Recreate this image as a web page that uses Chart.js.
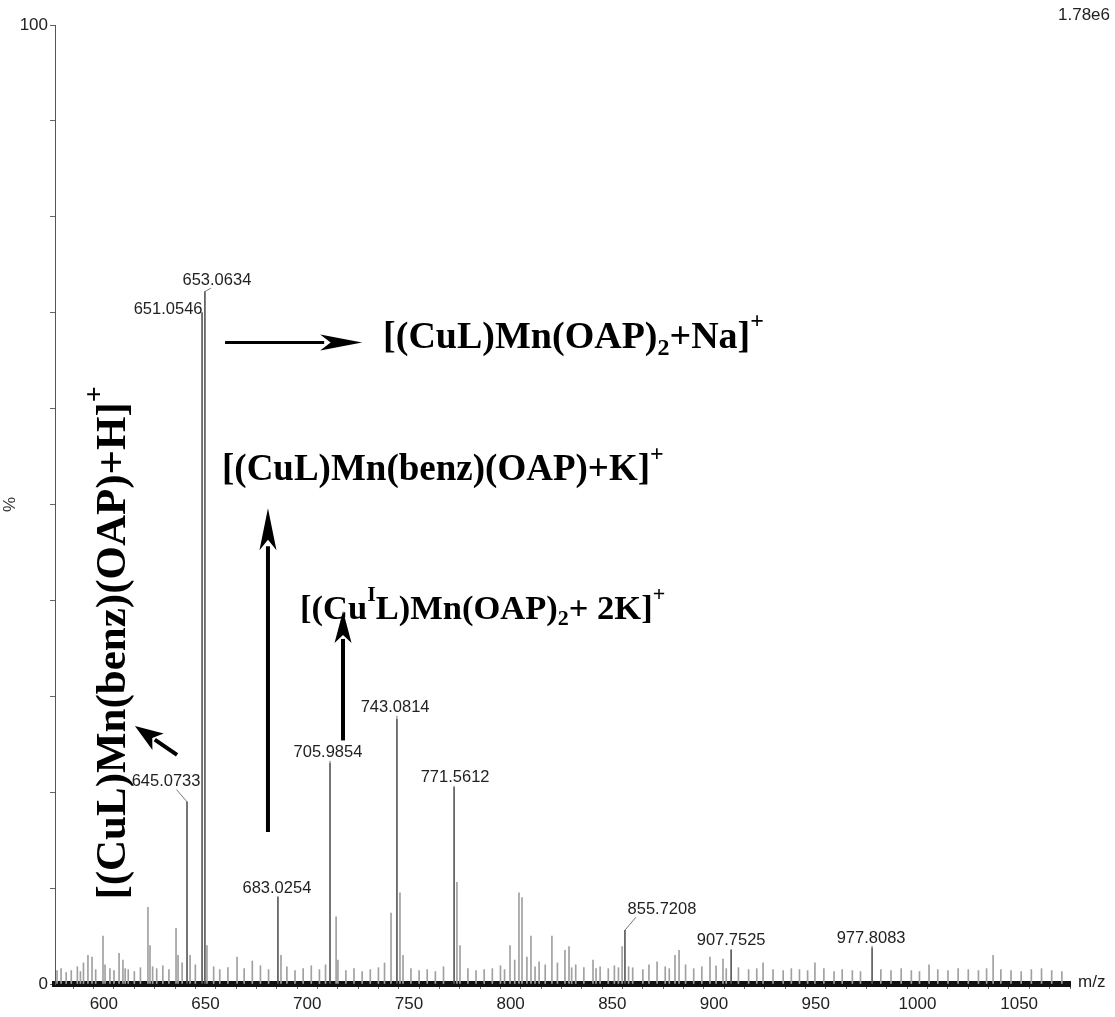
<!DOCTYPE html>
<html>
<head>
<meta charset="utf-8">
<script src="https://cdn.jsdelivr.net/npm/chart.js@4.4.0/dist/chart.umd.min.js"></script>
<style>
html, body { margin: 0; padding: 0; background: #fff; }
#wrap { width: 1115px; height: 1017px; }
</style>
</head>
<body>
<div id="wrap"><canvas id="grafica"></canvas></div>
<script>
// labelled peaks (m/z where the stick sits, relative intensity %)
var peakText = ["653.0634", "651.0546", "645.0733", "683.0254", "705.9854", "743.0814", "771.5612", "855.7208", "907.7525", "977.8083"];
var peakMz   = [649.7, 648.3, 640.9, 685.6, 711.2, 744.1, 772.2, 856.2, 908.4, 977.7];
var peakPct  = [72.2, 70.0, 19.0, 9.1, 23.0, 27.6, 20.5, 5.6, 3.5, 3.75];
// where the label text sits
var labelMz  = [655.6, 631.6, 630.6, 685.1, 710.2, 743.2, 772.7, 874.4, 908.4, 977.2];
var labelPct = [73.4, 70.3, 21.1, 10.0, 24.1, 28.8, 21.5, 7.8, 4.5, 4.8];

// unlabelled sticks
var minorMz  = [577, 579, 581.5, 584, 587, 588.5, 590, 592.2, 594.2, 596, 599.6, 600.6, 603, 605, 607.5, 609.4, 610.5, 612, 615, 618, 621.7, 622.7, 624, 626, 629, 632, 635.5, 636.5, 638.5, 642.4, 645, 650.7, 654, 657, 661, 665.5, 669, 673, 677, 681, 687.1, 690, 694, 698, 702, 706, 709, 714.2, 715.1, 719, 723, 727, 731, 735, 738, 741.2, 745.6, 747.1, 751, 755, 759, 763, 767, 773.6, 775.1, 779, 783, 787, 791, 795, 797, 799.7, 802, 804.1, 805.6, 808, 810, 812, 814, 817, 820.3, 823, 826.7, 828.7, 830, 832, 836, 840.5, 842, 844, 848, 851, 853, 854.8, 858, 860, 865, 868, 872, 876, 878, 880.8, 882.8, 886, 890, 894, 898, 901, 904.4, 906, 912, 917, 921, 924.1, 929, 934, 938, 942, 946, 949.6, 954, 959, 963, 968, 972, 982, 987, 992, 997, 1001, 1005.7, 1010, 1015, 1020, 1025, 1030, 1034, 1037.2, 1041, 1046, 1051, 1056, 1061, 1066, 1071];
var minorPct = [1.4, 1.6, 1.2, 1.4, 1.8, 1.3, 2.2, 3.0, 2.8, 1.5, 5.0, 2.0, 1.6, 1.4, 3.2, 2.5, 1.6, 1.5, 1.3, 1.7, 8.0, 4.0, 1.8, 1.6, 1.9, 1.5, 5.8, 3.0, 2.2, 3.0, 2.0, 4.0, 1.8, 1.5, 1.7, 2.8, 1.6, 2.4, 1.9, 1.5, 3.0, 1.8, 1.4, 1.6, 1.9, 1.5, 2.0, 7.0, 2.5, 1.4, 1.6, 1.3, 1.5, 1.7, 2.2, 7.4, 9.5, 3.0, 1.6, 1.4, 1.5, 1.3, 1.8, 10.6, 4.0, 1.6, 1.4, 1.5, 1.6, 1.9, 1.5, 4.0, 2.5, 9.5, 9.0, 2.8, 5.0, 1.8, 2.3, 2.0, 5.0, 2.2, 3.5, 3.9, 1.7, 2.0, 1.7, 2.5, 1.6, 1.8, 1.6, 1.9, 1.7, 3.9, 1.8, 1.7, 1.5, 2.0, 2.3, 1.8, 1.6, 3.0, 3.5, 2.0, 1.6, 1.8, 2.8, 1.9, 2.6, 1.6, 1.7, 1.5, 1.6, 2.2, 1.5, 1.4, 1.6, 1.5, 1.4, 2.2, 1.6, 1.3, 1.5, 1.4, 1.3, 1.5, 1.4, 1.6, 1.4, 1.3, 2.0, 1.5, 1.4, 1.6, 1.5, 1.4, 1.6, 3.0, 1.5, 1.4, 1.3, 1.5, 1.6, 1.4, 1.3];

var xTicks = [600, 650, 700, 750, 800, 850, 900, 950, 1000, 1050];

function punts(xs, ys) {
    var d = [];
    for (var i = 0; i < xs.length; i++) {
        d.push({ x: xs[i], y: ys[i] });
    }
    return d;
}

// annotation texts, pieces: n normal, sub, sup
var formulaNa = [["[(CuL)Mn(OAP)", "n"], ["2", "sub"], ["+Na]", "n"], ["+", "sup"]];
var formulaK = [["[(CuL)Mn(benz)(OAP)+K]", "n"], ["+", "sup"]];
var formula2K = [["[(Cu", "n"], ["I", "sup"], ["L)Mn(OAP)", "n"], ["2", "sub"], ["+ 2K]", "n"], ["+", "sup"]];
var formulaH = [["[(CuL)Mn(benz)(OAP)+H]", "n"], ["+", "sup"]];

var FONT = '"Liberation Serif", "Times New Roman", serif';

function escriuFormula(ctx, parts, x, y, mida) {
    var cx = x;
    for (var i = 0; i < parts.length; i++) {
        var t = parts[i][0], k = parts[i][1];
        var dy = 0;
        if (k == "n") {
            ctx.font = "bold " + mida + "px " + FONT;
        } else {
            ctx.font = "bold " + Math.round(mida * 0.64) + "px " + FONT;
            dy = (k == "sub") ? mida * 0.27 : -mida * 0.42;
        }
        ctx.fillText(t, cx, y + dy);
        cx += ctx.measureText(t).width;
    }
}

function fletxa(ctx, x1, y1, x2, y2, gruix, llarg, ample) {
    var ang = Math.atan2(y2 - y1, x2 - x1);
    var bx = x2 - Math.cos(ang) * llarg;
    var by = y2 - Math.sin(ang) * llarg;
    ctx.strokeStyle = "#000";
    ctx.fillStyle = "#000";
    ctx.lineWidth = gruix;
    ctx.beginPath();
    ctx.moveTo(x1, y1);
    ctx.lineTo(bx + Math.cos(ang) * 4, by + Math.sin(ang) * 4);
    ctx.stroke();
    var px = -Math.sin(ang), py = Math.cos(ang);
    ctx.beginPath();
    ctx.moveTo(x2, y2);
    ctx.lineTo(bx + px * ample / 2, by + py * ample / 2);
    ctx.lineTo(bx + Math.cos(ang) * llarg * 0.25, by + Math.sin(ang) * llarg * 0.25);
    ctx.lineTo(bx - px * ample / 2, by - py * ample / 2);
    ctx.closePath();
    ctx.fill();
}

var anotacions = {
    id: "anotacions",
    afterDraw: function (chart) {
        var ctx = chart.ctx;
        var xs = chart.scales.x, ys = chart.scales.y;
        var area = chart.chartArea;
        ctx.save();

        // peak labels with leaders
        ctx.font = '16.5px "Liberation Sans", Arial, sans-serif';
        ctx.textAlign = "center";
        ctx.textBaseline = "middle";
        for (var i = 0; i < peakText.length; i++) {
            var lx = xs.getPixelForValue(labelMz[i]);
            var ly = ys.getPixelForValue(labelPct[i]);
            var px = xs.getPixelForValue(peakMz[i]);
            var py = ys.getPixelForValue(peakPct[i]);
            ctx.fillStyle = "#222";
            ctx.fillText(peakText[i], lx, ly);
            var dif = lx - px;
            var sx = px;
            if (Math.abs(dif) > 4) {
                sx = px + Math.sign(dif) * Math.min(11, Math.abs(dif) / 2);
            }
            if (py > ly + 9) {
                ctx.strokeStyle = "#777";
                ctx.lineWidth = 1;
                ctx.beginPath();
                ctx.moveTo(sx, ly + 8);
                ctx.lineTo(px, py);
                ctx.stroke();
            }
        }

        // "m/z" and scale factor
        ctx.fillStyle = "#222";
        ctx.font = '17px "Liberation Sans", Arial, sans-serif';
        ctx.textAlign = "left";
        ctx.fillText("m/z", area.right + 8, area.bottom - 2);
        ctx.textAlign = "right";
        ctx.fillText("1.78e6", 1110, 15);

        // big formulas
        ctx.fillStyle = "#000";
        ctx.textAlign = "left";
        ctx.textBaseline = "middle";
        escriuFormula(ctx, formulaNa, xs.getPixelForValue(737.3), ys.getPixelForValue(67.35), 38);
        escriuFormula(ctx, formulaK, xs.getPixelForValue(658.1), ys.getPixelForValue(53.6), 37);
        escriuFormula(ctx, formula2K, xs.getPixelForValue(696.5), ys.getPixelForValue(39.0), 34.5);

        ctx.save();
        ctx.translate(xs.getPixelForValue(605.0), ys.getPixelForValue(8.8));
        ctx.rotate(-Math.PI / 2);
        escriuFormula(ctx, formulaH, 0, 0, 43);
        ctx.restore();

        // arrows
        fletxa(ctx, xs.getPixelForValue(659.6), ys.getPixelForValue(66.9), xs.getPixelForValue(727.0), ys.getPixelForValue(66.9), 3, 42, 16);
        fletxa(ctx, xs.getPixelForValue(680.7), ys.getPixelForValue(15.85), xs.getPixelForValue(680.7), ys.getPixelForValue(49.6), 4, 42, 17);
        fletxa(ctx, xs.getPixelForValue(717.6), ys.getPixelForValue(25.4), xs.getPixelForValue(717.6), ys.getPixelForValue(38.9), 4, 32, 17);
        fletxa(ctx, xs.getPixelForValue(636.0), ys.getPixelForValue(23.9), xs.getPixelForValue(615.3), ys.getPixelForValue(26.9), 4, 28, 20);

        ctx.restore();
    }
};

var ctx = document.getElementById("grafica");
var grafica = new Chart(ctx, {
    type: "bar",
    data: {
        datasets: [{
            label: "minor",
            data: punts(minorMz, minorPct),
            backgroundColor: "#a0a0a0",
            barThickness: 1,
            grouped: false
        }, {
            label: "major",
            data: punts(peakMz, peakPct),
            backgroundColor: "#5a5a5a",
            barThickness: 1,
            grouped: false
        }]
    },
    options: {
        responsive: true,
        maintainAspectRatio: false,
        animation: false,
        layout: { padding: { top: 25, right: 45, left: 0, bottom: 0 } },
        plugins: {
            legend: { display: false },
            tooltip: { enabled: false }
        },
        scales: {
            x: {
                type: "linear",
                min: 576,
                max: 1075,
                offset: false,
                afterFit: function (s) { s.height = 33; },
                afterBuildTicks: function (s) {
                    var t = [];
                    for (var v = 580; v <= 1070; v += 10) t.push({ value: v });
                    s.ticks = t;
                },
                ticks: {
                    autoSkip: false,
                    maxRotation: 0,
                    padding: 5,
                    color: "#222",
                    font: { size: 17, family: '"Liberation Sans", Arial, sans-serif' },
                    callback: function (v) { return xTicks.indexOf(v) >= 0 ? v : ""; }
                },
                grid: { drawOnChartArea: false, drawTicks: true, tickLength: 5, color: "#666" },
                border: { display: true, color: "#111", width: 6 }
            },
            y: {
                min: 0,
                max: 100,
                afterFit: function (s) { s.width = 55; },
                ticks: {
                    stepSize: 10,
                    padding: 2,
                    color: "#222",
                    font: { size: 17, family: '"Liberation Sans", Arial, sans-serif' },
                    callback: function (v) { return (v === 0 || v === 100) ? v : ""; }
                },
                grid: { drawOnChartArea: false, drawTicks: true, tickLength: 5, color: "#666" },
                border: { display: true, color: "#555", width: 1 },
                title: {
                    display: true,
                    text: "%",
                    color: "#333",
                    font: { size: 17, family: '"Liberation Sans", Arial, sans-serif' },
                    padding: 0
                }
            }
        }
    },
    plugins: [anotacions]
});
</script>
</body>
</html>
